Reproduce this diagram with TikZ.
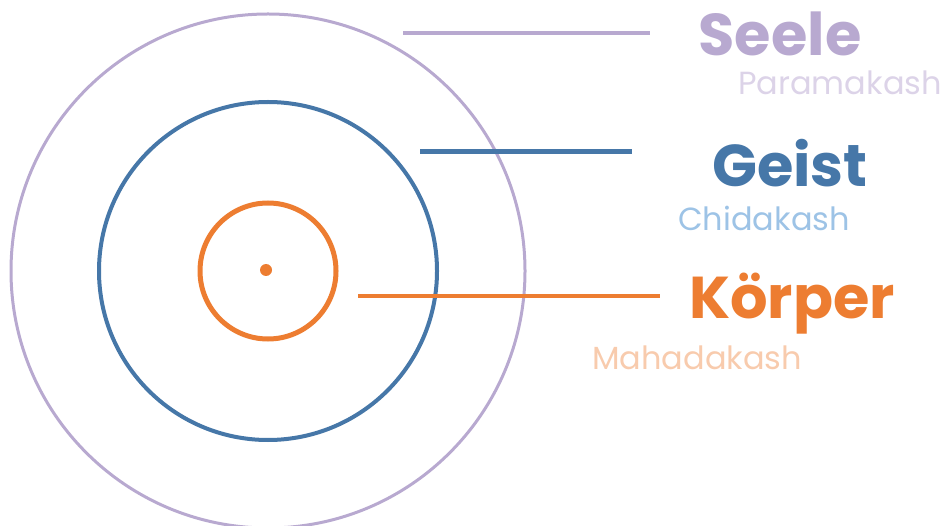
\documentclass[tikz,border=0pt]{standalone}
\usepackage{fontspec}
\setmainfont{Poppins}
\definecolor{seelec}{HTML}{B8A9D0}
\definecolor{seelel}{HTML}{DCD3E8}
\definecolor{geistc}{HTML}{4677A8}
\definecolor{geistl}{HTML}{9DC3E6}
\definecolor{koerc}{HTML}{ED7D31}
\definecolor{koerl}{HTML}{F8CBAD}
\tikzset{
  big/.style={anchor=base, font=\fontsize{59}{61}\selectfont\bfseries, inner sep=0pt},
  small/.style={anchor=base, font=\fontsize{32}{34}\selectfont, inner sep=0pt},
  ring/.style={draw, circle, inner sep=0pt, fill=none},
}
\begin{document}
\begin{tikzpicture}[x=1pt,y=-1pt]
\useasboundingbox (0,0) rectangle (952,526);
% rings
\node[ring, draw=seelec, line width=3pt, minimum size=514pt] (outer) at (268,271) {};
\node[ring, draw=geistc, line width=4pt, minimum size=338pt] (mid) at (268,271) {};
\node[ring, draw=koerc, line width=5pt, minimum size=136pt] (inner) at (268,271) {};
\node[circle, fill=koerc, inner sep=0pt, minimum size=12pt] (dot) at (266,270) {};
% labels
\node[big, text=seelec] (seele) at (780,56) {Seele};
\node[small, text=seelel] (param) at (840,95) {Paramakash};
\node[big, text=geistc] (geist) at (790,187) {Geist};
\node[small, text=geistl] (chida) at (764,231) {Chidakash};
\node[big, text=koerc] (koer) at (792,319) {Körper};
\node[small, text=koerl] (maha) at (697,369) {Mahadakash};
% leader lines
\coordinate (s1) at (403,33); \coordinate (s2) at (650,33);
\coordinate (g1) at (420,152); \coordinate (g2) at (632,152);
\coordinate (k1) at (358,296); \coordinate (k2) at (660,296);
\draw[seelec, line width=4pt] (s1) -- (s2);
\draw[geistc, line width=5pt] (g1) -- (g2);
\draw[koerc, line width=4pt] (k1) -- (k2);
\end{tikzpicture}
\end{document}
